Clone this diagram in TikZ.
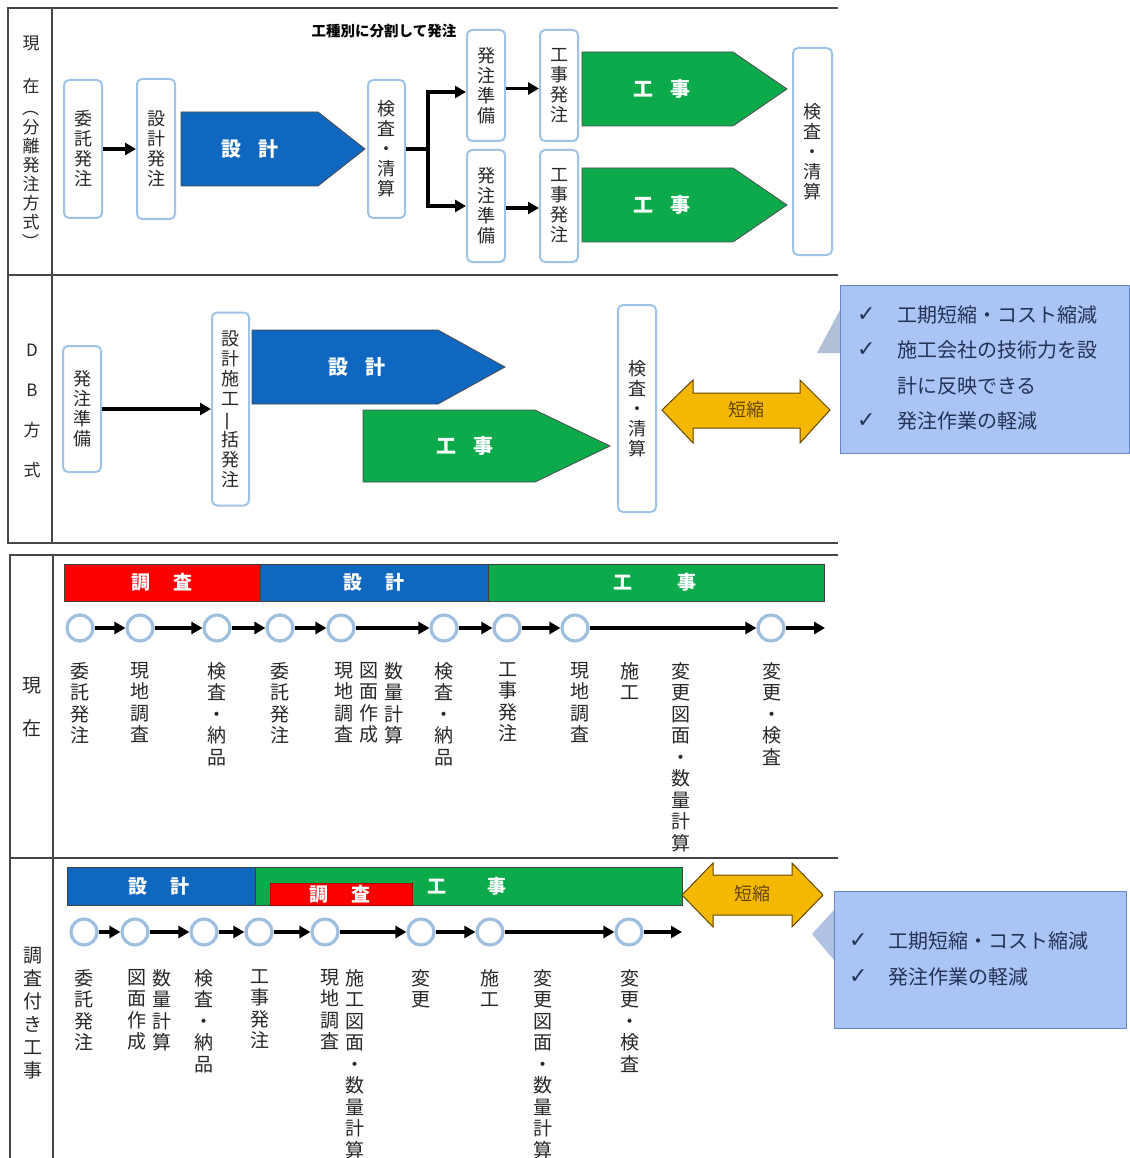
\documentclass[tikz,border=0pt]{standalone}
\usepackage{fontspec}
\usepackage{graphicx}
\newfontfamily\jp{Noto Sans CJK JP}
\newfontfamily\dv{DejaVu Sans}
\usetikzlibrary{arrows.meta}
\definecolor{cblue}{RGB}{16,103,192}
\definecolor{cgreen}{RGB}{12,170,75}
\definecolor{cred}{RGB}{250,0,0}
\definecolor{bxblue}{RGB}{160,196,230}
\definecolor{ringc}{RGB}{158,192,222}
\definecolor{goldc}{RGB}{245,184,0}
\definecolor{golddark}{RGB}{100,70,0}
\definecolor{callfill}{RGB}{170,197,245}
\definecolor{callline}{RGB}{100,135,195}
\definecolor{wedgec}{RGB}{178,192,215}
\definecolor{calltext}{RGB}{35,50,85}
\definecolor{framec}{RGB}{70,70,70}
\definecolor{lblc}{RGB}{40,40,40}
\newcommand\rt[1]{\rotatebox[origin=c]{-90}{#1}}
\begin{document}
\begin{tikzpicture}[x=1pt,y=-1pt,
  frameline/.style={draw=framec, line width=1.4pt},
  pbox/.style={draw=bxblue, line width=2pt, rounded corners=5pt, fill=white, inner sep=0pt, align=center, text=lblc, font=\jp\fontsize{18}{20}\selectfont},
  arr/.style={draw=black, line width=3.2pt, -{Triangle[length=11pt,width=12pt]}},
  thk/.style={draw=black, line width=3.2pt},
  ptext/.style={text=white, inner sep=0pt, font=\jp\bfseries\fontsize{20}{22}\selectfont},
  btext/.style={text=white, inner sep=0pt, font=\jp\bfseries\fontsize{19}{21}\selectfont},
  circ/.style={circle, draw=ringc, line width=3.2pt, fill=white, minimum size=26pt, inner sep=0pt},
  vlab/.style={anchor=north, inner sep=0pt, align=center, text=lblc, font=\jp\fontsize{19}{21.5}\selectfont},
  side/.style={inner sep=0pt, align=center, text=lblc, font=\jp\fontsize{17}{19}\selectfont},
  barline/.style={draw=black!75, line width=1pt},
  penta/.style={draw=black!70, line width=0.8pt},
  callout/.style={fill=callfill, draw=callline, line width=1pt},
  ctext/.style={anchor=west, inner sep=0pt, text=calltext, font=\jp\fontsize{20}{22}\selectfont},
  ccheck/.style={anchor=west, inner sep=0pt, text=calltext, font=\dv\bfseries\fontsize{22}{24}\selectfont},
  goldarrow/.style={fill=goldc, draw=golddark, line width=1pt},
  gtext/.style={inner sep=0pt, text=golddark, font=\jp\fontsize{18}{20}\selectfont}
]
\fill[white] (0,0) rectangle (1129,1158);
\useasboundingbox (0,0) rectangle (1129,1158);

% ---------- frames ----------
\draw[frameline] (838,8) -- (8,8) -- (8,543) -- (838,543);
\draw[frameline] (8,275) -- (838,275);
\draw[frameline] (52,8) -- (52,543);
\draw[frameline] (838,555) -- (10,555) -- (10,1158);
\draw[frameline] (53,555) -- (53,1158);
\draw[frameline] (10,858) -- (838,858);

% ---------- side labels ----------
\node[side] (s1a) at (31,43) {現};
\node[side] (s1b) at (31,86) {在};
\node[side] (s1c) at (31,175) {\rt{（}\\分\\離\\発\\注\\方\\式\\\rt{）}};
\node[side] (s2a) at (32,350) {D};
\node[side] (s2b) at (32,390) {B};
\node[side] (s2c) at (32,430) {方};
\node[side] (s2d) at (32,470) {式};
\node[side, font=\jp\fontsize{19}{21}\selectfont] (s3a) at (32,686) {現};
\node[side, font=\jp\fontsize{19}{21}\selectfont] (s3b) at (32,728) {在};
\node[side, font=\jp\fontsize{19}{23}\selectfont] (s4) at (33,1013) {調\\査\\付\\き\\工\\事};

% ---------- section 1 ----------
\node[font=\jp\bfseries\fontsize{14.5}{16}\selectfont, text=black, inner sep=0pt] (note) at (384,31) {工種別に分割して発注};
\node[pbox, minimum width=38pt, minimum height=138pt] (b1) at (83,149) {委\\託\\発\\注};
\node[pbox, minimum width=38pt, minimum height=140pt] (b2) at (156,149) {設\\計\\発\\注};
\draw[arr] (b1) -- (b2);
\path[fill=cblue, penta] (181,112) -- (318,112) -- (365,149) -- (318,186) -- (181,186) -- cycle;
\node[ptext] (p1) at (250,149) {設\hspace{0.9em}計};
\node[pbox, minimum width=37pt, minimum height=138pt] (b3) at (386.5,149) {検\\査\\・\\清\\算};
\coordinate (br) at (428,149);
\coordinate (j1) at (428,92);
\coordinate (j2) at (428,206);
\node[pbox, minimum width=38pt, minimum height=111pt] (b4) at (486,85.5) {発\\注\\準\\備};
\node[pbox, minimum width=38pt, minimum height=112pt] (b5) at (486,206) {発\\注\\準\\備};
\draw[thk] (b3) -- (br);
\draw[arr] (br) -- (j1) -- (j1 -| b4.west);
\draw[arr] (br) -- (j2) -- (j2 -| b5.west);
\node[pbox, minimum width=38pt, minimum height=111pt] (b6) at (559,85.5) {工\\事\\発\\注};
\node[pbox, minimum width=38pt, minimum height=112pt] (b7) at (559,206) {工\\事\\発\\注};
\draw[arr] ([yshift=-3pt]b4.east) -- ([yshift=-3pt]b6.west);
\draw[arr] ([yshift=-2pt]b5.east) -- ([yshift=-2pt]b7.west);
\path[fill=cgreen, penta] (582,52) -- (733,52) -- (787,89) -- (733,126) -- (582,126) -- cycle;
\node[ptext] (p2) at (662,89) {工\hspace{0.9em}事};
\path[fill=cgreen, penta] (582,168) -- (733,168) -- (787,205) -- (733,242) -- (582,242) -- cycle;
\node[ptext] (p3) at (662,205) {工\hspace{0.9em}事};
\node[pbox, minimum width=39pt, minimum height=207pt] (b8) at (812.5,151.5) {検\\査\\・\\清\\算};

% ---------- section 2 ----------
\node[pbox, minimum width=38pt, minimum height=126pt] (c1) at (82,409) {発\\注\\準\\備};
\node[pbox, minimum width=37pt, minimum height=193pt] (c2) at (230.5,409) {設\\計\\施\\工\\\rotatebox[origin=c]{90}{一}\\括\\発\\注};
\draw[arr] (c1) -- (c2);
\path[fill=cblue, penta] (252,330) -- (438,330) -- (505,367) -- (438,404) -- (252,404) -- cycle;
\node[ptext] (p4) at (357,367) {設\hspace{0.9em}計};
\path[fill=cgreen, penta] (363,410) -- (535,410) -- (610,446) -- (535,482) -- (363,482) -- cycle;
\node[ptext] (p5) at (465,446) {工\hspace{0.9em}事};
\node[pbox, minimum width=38pt, minimum height=207pt] (c3) at (637,408.5) {検\\査\\・\\清\\算};
\path[goldarrow] (662,410) -- (693,380) -- (693,393) -- (800,393) -- (800,380) -- (830,410) -- (800,443) -- (800,428) -- (693,428) -- (693,443) -- cycle;
\node[gtext] (g1) at (746,410) {短縮};

% callout 1
\fill[wedgec] (840,310) -- (817,353) -- (840,353) -- cycle;
\path[callout] (840,285) rectangle (1129,453);
\node[ccheck] (k1) at (857,315) {✓};
\node[ctext] (t1) at (897,315) {工期短縮・コスト縮減};
\node[ccheck] (k2) at (857,350) {✓};
\node[ctext] (t2) at (897,350) {施工会社の技術力を設};
\node[ctext] (t3) at (897,386) {計に反映できる};
\node[ccheck] (k3) at (857,421) {✓};
\node[ctext] (t4) at (897,421) {発注作業の軽減};

% ---------- section 3 ----------
\path[fill=cred, barline] (64,564) rectangle (260,601);
\path[fill=cblue, barline] (260,564) rectangle (488,601);
\path[fill=cgreen, barline] (488,564) rectangle (824,601);
\node[btext] (h1) at (162,582) {調\hspace{1.2em}査};
\node[btext] (h2) at (374,582) {設\hspace{1.2em}計};
\node[btext] (h3) at (655,582) {工\hspace{2.4em}事};

\foreach \n/\x in {r1/80, r2/140, r3/217, r4/280, r5/341, r6/444, r7/507, r8/575, r9/771}
  \node[circ] (\n) at (\x,628) {};
\coordinate (rend) at (825,628);
\foreach \a/\b in {r1/r2, r2/r3, r3/r4, r4/r5, r5/r6, r6/r7, r7/r8, r8/r9, r9/rend}
  \draw[arr] (\a) -- (\b);

\node[vlab] (l1) at (80,662) {委\\託\\発\\注};
\node[vlab] (l2) at (140,662) {現\\地\\調\\査};
\node[vlab] (l3) at (217,662) {検\\査\\・\\納\\品};
\node[vlab] (l4) at (280,662) {委\\託\\発\\注};
\node[vlab] (l5) at (344,662) {現\\地\\調\\査};
\node[vlab] (l6) at (369,662) {図\\面\\作\\成};
\node[vlab] (l7) at (394,662) {数\\量\\計\\算};
\node[vlab] (l8) at (444,662) {検\\査\\・\\納\\品};
\node[vlab] (l9) at (508,662) {工\\事\\発\\注};
\node[vlab] (l10) at (580,662) {現\\地\\調\\査};
\node[vlab] (l11) at (630,662) {施\\工};
\node[vlab] (l12) at (681,662) {変\\更\\図\\面\\・\\数\\量\\計\\算};
\node[vlab] (l13) at (772,662) {変\\更\\・\\検\\査};

% ---------- section 4 ----------
\path[fill=cblue, barline] (67,867) rectangle (255,905);
\path[fill=cgreen, barline] (255,867) rectangle (682,905);
\path[fill=cred, draw=cred!70!black, line width=0.6pt] (270,883) rectangle (412,905);
\node[btext] (h4) at (159,886) {設\hspace{1.2em}計};
\node[btext] (h5) at (340,894) {調\hspace{1.2em}査};
\node[btext] (h6) at (467,886) {工\hspace{2.2em}事};
\path[goldarrow] (682,895) -- (713,863) -- (713,875) -- (792,875) -- (792,863) -- (823,895) -- (792,927) -- (792,915) -- (713,915) -- (713,927) -- cycle;
\node[gtext] (g2) at (752,894) {短縮};

\foreach \n/\x in {q1/84, q2/135, q3/204, q4/259, q5/325, q6/421, q7/490, q8/629}
  \node[circ] (\n) at (\x,932) {};
\coordinate (qend) at (682,932);
\foreach \a/\b in {q1/q2, q2/q3, q3/q4, q4/q5, q5/q6, q6/q7, q7/q8, q8/qend}
  \draw[arr] (\a) -- (\b);

\node[vlab] (m1) at (84,969) {委\\託\\発\\注};
\node[vlab] (m2) at (137,969) {図\\面\\作\\成};
\node[vlab] (m3) at (162,969) {数\\量\\計\\算};
\node[vlab] (m4) at (204,969) {検\\査\\・\\納\\品};
\node[vlab] (m5) at (260,969) {工\\事\\発\\注};
\node[vlab] (m6) at (330,969) {現\\地\\調\\査};
\node[vlab] (m7) at (355,969) {施\\工\\図\\面\\・\\数\\量\\計\\算};
\node[vlab] (m8) at (421,969) {変\\更};
\node[vlab] (m9) at (490,969) {施\\工};
\node[vlab] (m10) at (543,969) {変\\更\\図\\面\\・\\数\\量\\計\\算};
\node[vlab] (m11) at (630,969) {変\\更\\・\\検\\査};

% callout 2
\fill[wedgec!60!callfill] (834,910) -- (812,934) -- (834,960) -- cycle;
\path[callout] (834,891) rectangle (1126,1028);
\node[ccheck] (k4) at (849,941) {✓};
\node[ctext] (t5) at (888,941) {工期短縮・コスト縮減};
\node[ccheck] (k5) at (849,977) {✓};
\node[ctext] (t6) at (888,977) {発注作業の軽減};
\end{tikzpicture}
\end{document}
